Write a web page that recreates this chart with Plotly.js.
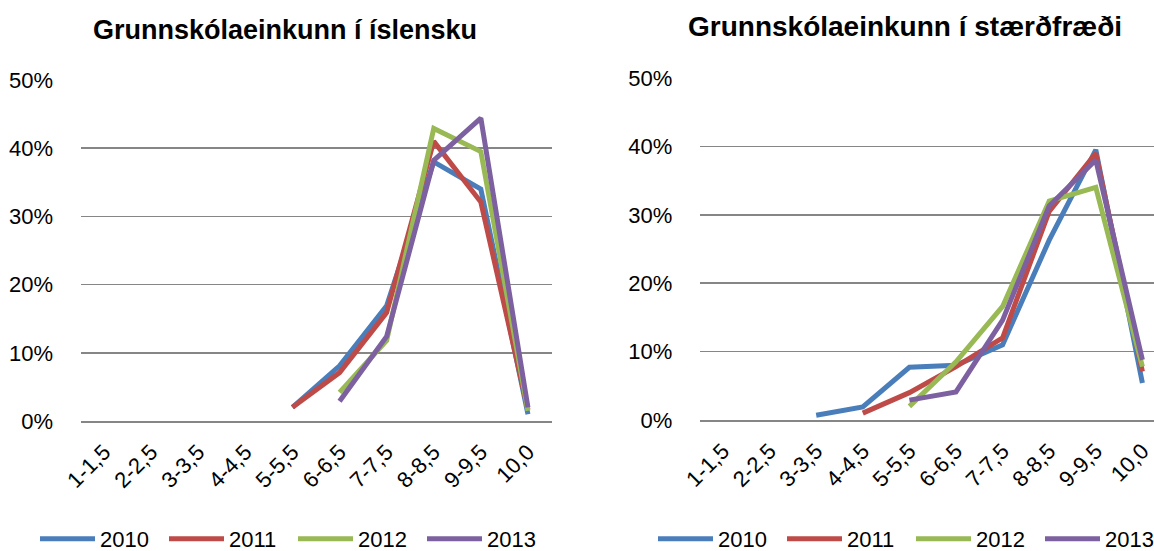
<!DOCTYPE html>
<html><head><meta charset="utf-8">
<script src="https://cdn.plot.ly/plotly-3.0.1.min.js"></script>
<style>html,body{margin:0;padding:0;overflow:hidden;background:#fff;width:1154px;height:551px}#wrap{width:1154px;height:551px;overflow:hidden;position:relative}#chart{width:1175px;height:551px;position:absolute;left:0;top:0}</style>
</head><body><div id="wrap"><div id="chart"></div></div>
<script>
const categories = ['1-1,5','2-2,5','3-3,5','4-4,5','5-5,5','6-6,5','7-7,5','8-8,5','9-9,5','10,0'];
const years = ['2010','2011','2012','2013'];
const colors = ['#4A7EBB','#BE4B48','#98B954','#7D60A0'];

// Grunnskólaeinkunn í íslensku
const isl2010 = [null,null,null,null,0.020,0.081,0.169,0.380,0.340,0.010];
const isl2011 = [null,null,null,null,0.020,0.071,0.159,0.410,0.321,0.017];
const isl2012 = [null,null,null,null,null,0.042,0.118,0.429,0.395,0.015];
const isl2013 = [null,null,null,null,null,0.029,0.124,0.382,0.444,0.020];

// Grunnskólaeinkunn í stærðfræði
const stae2010 = [null,null,0.007,0.019,0.077,0.080,0.110,0.263,0.395,0.054];
const stae2011 = [null,null,null,0.010,0.040,0.078,0.120,0.305,0.390,0.071];
const stae2012 = [null,null,null,null,0.020,0.085,0.166,0.320,0.340,0.078];
const stae2013 = [null,null,null,null,0.029,0.041,0.146,0.313,0.380,0.088];

const islData = [isl2010, isl2011, isl2012, isl2013];
const staeData = [stae2010, stae2011, stae2012, stae2013];

const W = 1175, H = 551;
const FONT = 'Liberation Sans, Arial, sans-serif';
const traces = [];
years.forEach((y, i) => {
  traces.push({x: categories, y: islData[i], type: 'scatter', mode: 'lines', name: y,
    line: {color: colors[i], width: 5}, xaxis: 'x', yaxis: 'y', legend: 'legend', hoverinfo: 'y'});
});
years.forEach((y, i) => {
  traces.push({x: categories, y: staeData[i], type: 'scatter', mode: 'lines', name: y,
    line: {color: colors[i], width: 5}, xaxis: 'x2', yaxis: 'y2', legend: 'legend2', hoverinfo: 'y'});
});

const yax = (dom) => ({domain: dom, range: [0, 0.5], dtick: 0.1, tickformat: '.0%', automargin: false,
  showgrid: true, gridcolor: '#868686', gridwidth: 1.5, zeroline: false, showline: false,
  ticks: 'outside', ticklen: 22, tickcolor: 'rgba(0,0,0,0)', tickfont: {size: 22, color: '#000'}, fixedrange: true});
const xax = (dom, anchor) => ({domain: dom, type: 'category', range: [-0.5, 9.5], anchor: anchor, automargin: false,
  showgrid: false, zeroline: false, showline: true, linecolor: '#868686', linewidth: 1.5,
  tickangle: -45, ticks: 'outside', ticklen: 8, tickcolor: 'rgba(0,0,0,0)',
  tickfont: {size: 22, color: '#000'}, fixedrange: true});

const legendBase = {orientation: 'h', xanchor: 'left', y: (H - 539) / H, yanchor: 'middle',
  font: {size: 22, color: '#000'}, itemwidth: 55, entrywidth: 59, bgcolor: 'rgba(0,0,0,0)', tracegroupgap: 0};

const layout = {
  width: W, height: H,
  margin: {l: 0, r: 0, t: 0, b: 0, autoexpand: false},
  paper_bgcolor: '#fff', plot_bgcolor: '#fff',
  font: {family: FONT, color: '#000'},
  showlegend: true,
  xaxis: xax([80.5 / W, 551.5 / W], 'y'),
  yaxis: yax([(H - 421) / H, (H - 80) / H]),
  xaxis2: xax([699.7 / W, 1165.7 / W], 'y2'),
  yaxis2: Object.assign(yax([(H - 420) / H, (H - 78) / H]), {anchor: 'x2'}),
  legend: Object.assign({}, legendBase, {x: 35 / W}),
  legend2: Object.assign({}, legendBase, {x: 653 / W}),
  annotations: [
    {text: '<b>Grunnskólaeinkunn í íslensku</b>', xref: 'paper', yref: 'paper',
      x: 285 / W, y: (H - 30) / H, xanchor: 'center', yanchor: 'middle', showarrow: false,
      font: {size: 27, color: '#000'}},
    {text: '<b>Grunnskólaeinkunn í stærðfræði</b>', xref: 'paper', yref: 'paper',
      x: 905 / W, y: (H - 26) / H, xanchor: 'center', yanchor: 'middle', showarrow: false,
      font: {size: 28, color: '#000'}}
  ]
};

Plotly.newPlot('chart', traces, layout, {displayModeBar: false, staticPlot: true});
</script>
</body></html>
